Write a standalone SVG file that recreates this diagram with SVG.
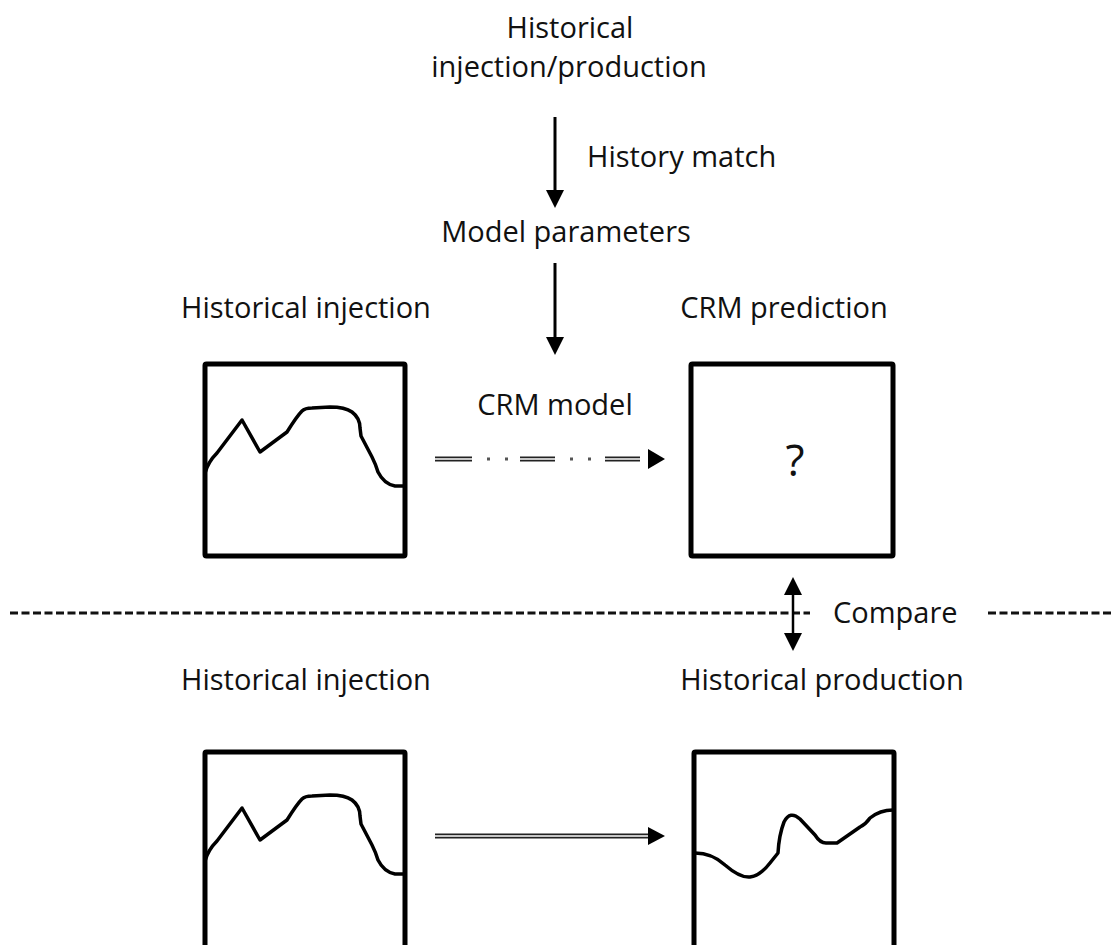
<svg xmlns="http://www.w3.org/2000/svg" xmlns:xlink="http://www.w3.org/1999/xlink" width="1111" height="945" viewBox="0 0 1111 945">
<style>
  text { font-family: "Open Sans", "Liberation Sans", sans-serif; font-size: 29px; fill: #111; }
  .mid { text-anchor: middle; }
  .box { fill: none; stroke: #000; stroke-width: 5; stroke-linejoin: round; }
  .curve { fill: none; stroke: #000; stroke-width: 3.5; stroke-linejoin: round; stroke-linecap: round; }
  .arr { stroke: #000; stroke-width: 3; fill: none; }
  .dbl { stroke: #222; stroke-width: 5; fill: none; }
  .dblin { stroke: #fff; stroke-width: 1.4; fill: none; }
  .sep { stroke: #111; stroke-width: 3; stroke-dasharray: 8 3.5; fill: none; }
</style>
<defs>
  <marker id="ah" viewBox="0 0 10 10" refX="0" refY="5" markerUnits="userSpaceOnUse" markerWidth="18" markerHeight="18" orient="auto-start-reverse">
    <path d="M0,0 L10,5 L0,10 z" fill="#000"/>
  </marker>
  <path id="inj" d="M205,473 Q208,462 217,453 L242,420 L260,452 L287,432 Q297,416 302,411 Q305,408 312,408 L330,407 Q345,407 352,412 Q360,418 360,428 L361,436 L372,457 Q376,465 378,472 Q384,484 395,486 L403,486"/>
</defs>
<rect width="1111" height="945" fill="#fff"/>

<g id="top-label">
  <text class="mid" x="570" y="38">Historical</text>
  <text class="mid" x="569" y="77">injection/production</text>
</g>
<g id="history-match-label">
  <text x="587" y="167">History match</text>
</g>
<g id="model-parameters">
  <text class="mid" x="566" y="242">Model parameters</text>
</g>

<g id="top-injection">
  <text class="mid" x="306" y="318">Historical injection</text>
  <rect class="box" x="205" y="364" width="200" height="192" rx="1.5"/>
  <use xlink:href="#inj" class="curve"/>
</g>

<g id="crm-model-label">
  <text class="mid" x="555" y="415">CRM model</text>
</g>

<g id="crm-prediction">
  <text class="mid" x="784" y="318">CRM prediction</text>
  <rect class="box" x="691" y="364" width="202" height="192" rx="1.5"/>
  <text class="mid" x="795" y="476" style="font-size:44px">?</text>
</g>

<g id="compare-label">
  <text x="833" y="623">Compare</text>
</g>

<g id="bottom-injection">
  <text class="mid" x="306" y="690">Historical injection</text>
  <rect class="box" x="205" y="752" width="200" height="200" rx="1.5"/>
  <use xlink:href="#inj" class="curve" transform="translate(0,388)"/>
</g>

<g id="historical-production">
  <text class="mid" x="822" y="690">Historical production</text>
  <rect class="box" x="694" y="752" width="200" height="200" rx="1.5"/>
  <path class="curve" d="M695,853 Q712,853 725,865 Q740,878 750,877 Q760,876 770,863 L778,853 Q779,835 784,822 Q790,810 800,819 L815,835 Q820,843 826,843 L837,843 L860,827 Q866,824 870,818 Q880,810 893,810"/>
</g>

<g id="connectors">
  <line class="arr" x1="555" y1="117" x2="555" y2="190" marker-end="url(#ah)"/>
  <line class="arr" x1="555" y1="263" x2="555" y2="337" marker-end="url(#ah)"/>
  <g>
    <line class="dbl" x1="435" y1="459" x2="472" y2="459"/>
    <line class="dblin" x1="435" y1="459" x2="472" y2="459"/>
    <line class="dbl" x1="520" y1="459" x2="555" y2="459"/>
    <line class="dblin" x1="520" y1="459" x2="555" y2="459"/>
    <line class="dbl" x1="605" y1="459" x2="640" y2="459"/>
    <line class="dblin" x1="605" y1="459" x2="640" y2="459"/>
    <rect x="487" y="457.5" width="3" height="3" fill="#555"/>
    <rect x="505" y="457.5" width="3" height="3" fill="#555"/>
    <rect x="570" y="457.5" width="3" height="3" fill="#555"/>
    <rect x="588" y="457.5" width="3" height="3" fill="#555"/>
    <polygon points="648,449 665,459 648,469" fill="#000"/>
  </g>
  <g>
    <line class="dbl" x1="435" y1="836" x2="649" y2="836"/>
    <line class="dblin" x1="435" y1="836" x2="649" y2="836"/>
    <polygon points="648,827 665,836 648,845" fill="#000"/>
  </g>
  <line class="sep" x1="10" y1="613" x2="810" y2="613"/>
  <line class="sep" x1="988" y1="613" x2="1111" y2="613"/>
  <line class="arr" x1="793" y1="595" x2="793" y2="633" marker-start="url(#ah)" marker-end="url(#ah)" style="stroke-width:2.5"/>
</g>
</svg>
